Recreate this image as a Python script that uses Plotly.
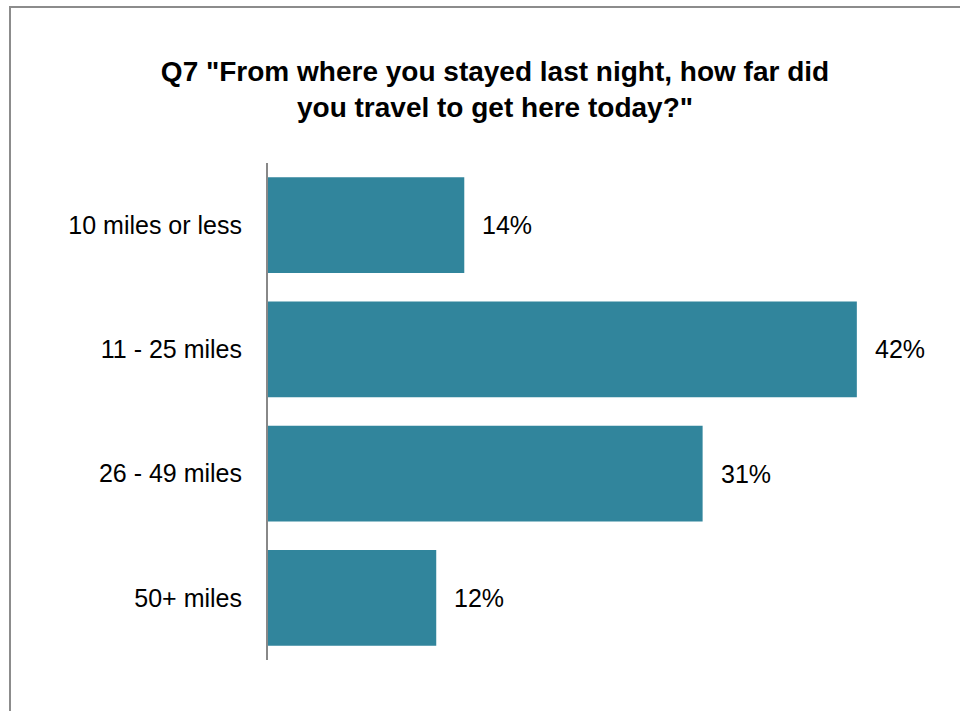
import plotly.graph_objects as go

categories = ["10 miles or less", "11 - 25 miles", "26 - 49 miles", "50+ miles"]
values = [14, 42, 31, 12]
value_labels = ["14%", "42%", "31%", "12%"]
title_text = 'Q7 "From where you stayed last night, how far did<br>you travel to get here today?"'

BAR_COLOR = "#31859C"
FONT = "Liberation Sans, Arial, sans-serif"

fig = go.Figure()
fig.add_trace(go.Bar(
    y=categories, x=values, orientation="h",
    marker=dict(color=BAR_COLOR, line=dict(width=0)),
    hoverinfo="skip",
))

annotations = []
for c, v, t in zip(categories, values, value_labels):
    annotations.append(dict(x=v, y=c, xref="x", yref="y", text=t, showarrow=False,
                            xanchor="left", yanchor="middle", xshift=16,
                            font=dict(family=FONT, size=25, color="#000000")))

L, R, T, B = 268, 61, 163, 51
W, H = 960, 711
pw, ph = W - L - R, H - T - B

fig.update_layout(
    width=W, height=H,
    margin=dict(l=L, r=R, t=T, b=B, pad=0),
    paper_bgcolor="white", plot_bgcolor="white",
    bargap=0.23,
    showlegend=False,
    title=dict(text=title_text, x=495 / W, xanchor="center", y=1 - 81 / H, yanchor="middle",
               xref="container", yref="container",
               font=dict(family=FONT, size=28, color="#000000", weight="bold")),
    xaxis=dict(range=[0, pw / 14.02], showgrid=False, zeroline=False, showline=False,
               showticklabels=False, ticks="", fixedrange=True),
    yaxis=dict(categoryorder="array", categoryarray=categories, autorange="reversed",
               showgrid=False, zeroline=False, showline=True, linecolor="#888888", linewidth=2,
               ticks="", ticklabelstandoff=19, fixedrange=True,
               tickfont=dict(family=FONT, size=25, color="#000000")),
    annotations=annotations,
    shapes=[dict(type="rect", xref="paper", yref="paper",
                 x0=(10 - L) / pw, x1=(W + 20 - L) / pw,
                 y0=-(H + 20 - (H - B)) / ph, y1=(H - B - 7) / ph,
                 line=dict(color="#8c8c8c", width=2), fillcolor="rgba(0,0,0,0)", layer="below")],
)

fig.write_html("out.html", config={"displayModeBar": False},
               post_script="document.body.style.margin='0';document.body.style.overflow='hidden';")
